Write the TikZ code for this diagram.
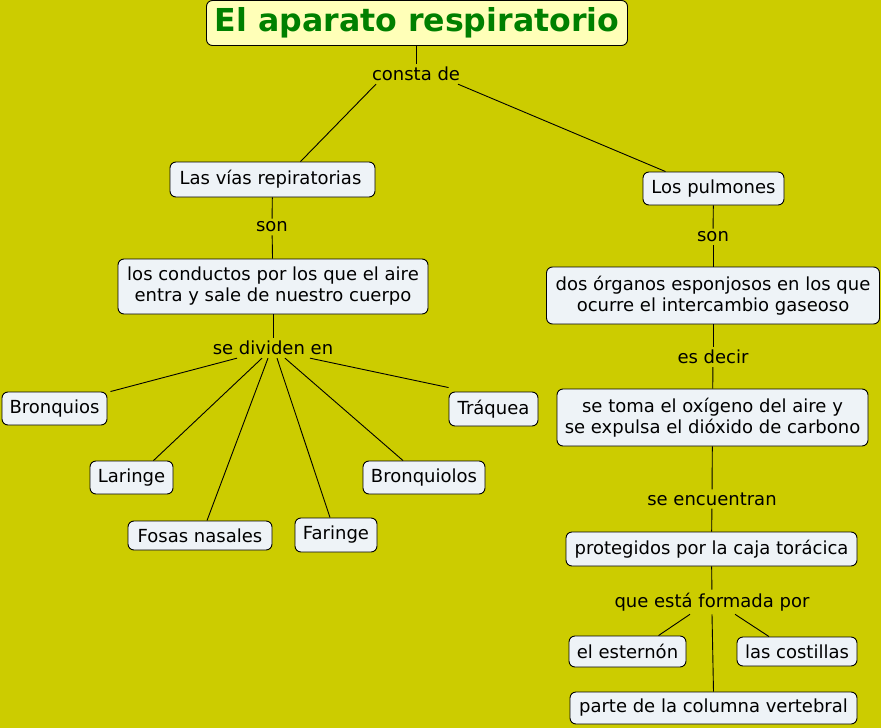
\documentclass[tikz,border=0pt]{standalone}
\usepackage{fontspec}
\setmainfont{DejaVu Sans}
\definecolor{bgc}{HTML}{CCCC00}
\definecolor{boxfill}{HTML}{EEF3F7}
\definecolor{titlefill}{HTML}{FFFFB8}
\definecolor{titlegreen}{HTML}{008000}
\begin{document}
\begin{tikzpicture}[x=1pt,y=-1pt,
  box/.style={draw=black, line width=0.9pt, rounded corners=6pt, fill=boxfill,
    font=\fontsize{18}{21}\selectfont, inner sep=0pt, align=center, minimum height=33pt},
  lbl/.style={font=\fontsize{18}{21}\selectfont, inner sep=3pt},
  conn/.style={draw=black, line width=0.9pt}]
\fill[bgc] (0,0) rectangle (881,728);
\useasboundingbox (0,0) rectangle (881,728);
% title
\node[draw=black, line width=0.9pt, rounded corners=6pt, fill=titlefill, text=titlegreen,
  font=\fontsize{31.6}{36}\selectfont\bfseries, minimum width=421pt, minimum height=45pt, inner sep=0pt]
  (title) at (417,23) {El aparato respiratorio};
\node[lbl] (consta) at (416,74) {consta de};
% left branch
\node[box, minimum width=205pt, minimum height=35pt] (vias) at (272.5,179.5) {Las vías repiratorias\hspace{4pt}};
\node[lbl] (son1) at (272,227) {son};
\node[box, minimum width=310pt, minimum height=55pt] (conductos) at (273,286.5) {los conductos por los que el aire\\entra y sale de nuestro cuerpo};
\node[lbl] (dividen) at (273,348) {se dividen en};
\node[box, minimum width=105pt] (bronquios) at (54.5,408.5) {Bronquios};
\node[box, minimum width=83pt] (laringe) at (131.5,477.5) {Laringe};
\node[box, minimum width=144pt, minimum height=29pt] (fosas) at (200,535.5) {Fosas nasales};
\node[box, minimum width=82pt, minimum height=34pt] (faringe) at (336,535) {Faringe};
\node[box, minimum width=122pt] (bronquiolos) at (424,477.5) {Bronquiolos};
\node[box, minimum width=89pt, minimum height=34pt] (traquea) at (493.5,409) {Tráquea};
% right branch
\node[box, minimum width=141pt] (pulmones) at (713.5,188.5) {Los pulmones};
\node[lbl] (son2) at (713,237) {son};
\node[box, minimum width=333pt, minimum height=57pt] (organos) at (713,295.5) {dos órganos esponjosos en los que\\ocurre el intercambio gaseoso};
\node[lbl] (decir) at (713,357) {es decir};
\node[box, minimum width=311pt, minimum height=57pt] (oxigeno) at (712.5,417.5) {se toma el oxígeno del aire y\\se expulsa el dióxido de carbono};
\node[lbl] (encuentran) at (712,499) {se encuentran};
\node[box, minimum width=291pt, minimum height=34pt] (caja) at (711.5,549) {protegidos por la caja torácica};
\node[lbl] (formada) at (712,602) {que está formada por};
\node[box, minimum width=117pt, minimum height=31pt] (esternon) at (627.5,651.5) {el esternón};
\node[box, minimum width=120pt, minimum height=29pt] (costillas) at (797,651.5) {las costillas};
\node[box, minimum width=287pt, minimum height=32pt] (columna) at (713.5,708) {parte de la columna vertebral};
% connectors
\draw[conn] (title.south -| consta.north) -- (consta.north);
\draw[conn] ([xshift=-40pt]consta.south) -- ([xshift=28pt]vias.north);
\draw[conn] ([xshift=42pt]consta.south) -- ([xshift=-48pt]pulmones.north);
\draw[conn] (vias) -- (son1);
\draw[conn] (son1) -- (conductos);
\draw[conn] (conductos) -- (dividen);
\draw[conn] ([xshift=-36pt]dividen.south) -- ([xshift=3pt]bronquios.north east);
\draw[conn] ([xshift=-11pt]dividen.south) -- ([xshift=22pt]laringe.north);
\draw[conn] ([xshift=-5pt]dividen.south) -- ([xshift=7pt]fosas.north);
\draw[conn] ([xshift=4pt]dividen.south) -- ([xshift=-6pt]faringe.north);
\draw[conn] ([xshift=12pt]dividen.south) -- ([xshift=-21pt]bronquiolos.north);
\draw[conn] ([xshift=37pt]dividen.south) -- ([yshift=4pt]traquea.north west);
\draw[conn] (pulmones) -- (son2);
\draw[conn] (son2) -- (organos);
\draw[conn] (organos) -- (decir);
\draw[conn] (decir) -- (oxigeno);
\draw[conn] (oxigeno) -- (encuentran);
\draw[conn] (encuentran) -- (caja);
\draw[conn] (caja) -- (formada);
\draw[conn] ([xshift=-22pt]formada.south) -- ([xshift=31pt]esternon.north);
\draw[conn] ([xshift=23pt]formada.south) -- ([xshift=-28pt]costillas.north);
\draw[conn] (formada.south) -- (columna.north);
\end{tikzpicture}
\end{document}
